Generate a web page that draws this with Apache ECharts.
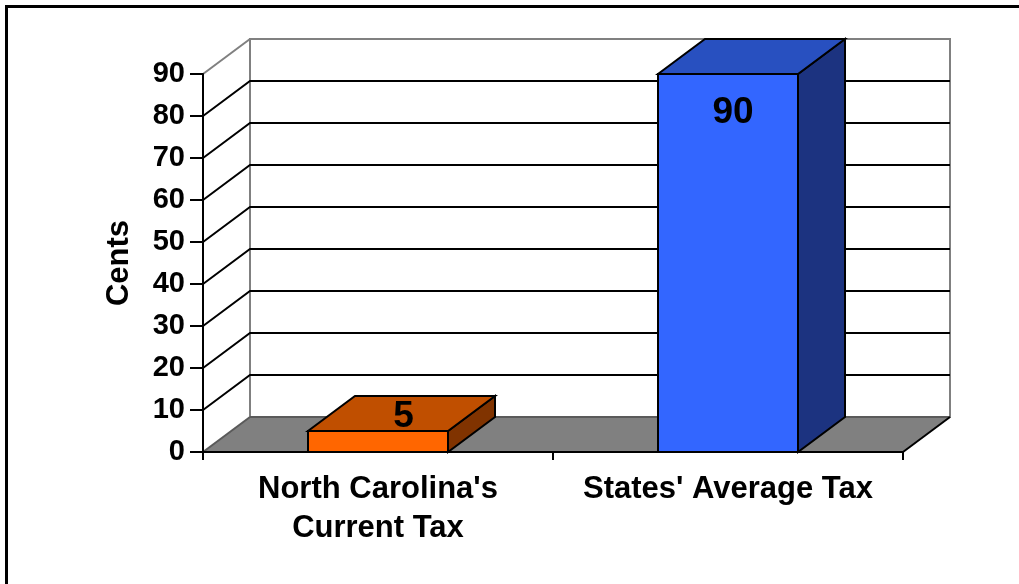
<!DOCTYPE html>
<html>
<head>
<meta charset="utf-8">
<style>
  html, body { margin: 0; padding: 0; background: #ffffff; }
  #chart { width: 1019px; height: 584px; }
</style>
<script src="https://cdn.jsdelivr.net/npm/echarts@6/dist/echarts.min.js"></script>
</head>
<body>
<div id="chart"></div>
<script>
// Cigarette tax comparison, in cents
const categories = ["North Carolina's\nCurrent Tax", "States' Average Tax"];
const taxCents = [5, 90];
const yTicks = [0, 10, 20, 30, 40, 50, 60, 70, 80, 90];

// Face colours for each bar: front, top, side
const faceColors = [
  { front: '#FF6600', top: '#C04F00', side: '#803300' },
  { front: '#3366FF', top: '#2850C0', side: '#1C3380' }
];

// Oblique depth of the pseudo-3D box
const DX = 47, DY = -35;
const FONT = 'Liberation Sans, Arial, Helvetica, sans-serif';

const yMin = yTicks[0];
const yMax = yTicks[yTicks.length - 1];
const yStep = yTicks[1] - yTicks[0];

// Walls, floor and gridlines of the 3D box
function renderFrame(params, api) {
  const cs = params.coordSys;
  const x0 = cs.x, x1 = cs.x + cs.width;
  const yBase = api.coord([0, yMin])[1];
  const yTop = api.coord([0, yMax])[1];
  const children = [];

  // side wall
  children.push({
    type: 'polygon',
    shape: { points: [[x0, yBase], [x0, yTop], [x0 + DX, yTop + DY], [x0 + DX, yBase + DY]] },
    style: { fill: '#ffffff', stroke: null }
  });
  // back wall
  children.push({
    type: 'rect',
    shape: { x: x0 + DX, y: yTop + DY, width: x1 - x0, height: yBase - yTop },
    style: { fill: '#ffffff', stroke: '#808080', lineWidth: 2 }
  });
  // floor
  children.push({
    type: 'polygon',
    shape: { points: [[x0, yBase], [x1, yBase], [x1 + DX, yBase + DY], [x0 + DX, yBase + DY]] },
    style: { fill: '#808080', stroke: null }
  });
  // floor edges
  children.push({
    type: 'line',
    shape: { x1: x0, y1: yBase, x2: x0 + DX, y2: yBase + DY },
    style: { stroke: '#5a5a5a', lineWidth: 2 }
  });
  children.push({
    type: 'line',
    shape: { x1: x0 + DX, y1: yBase + DY, x2: x1 + DX, y2: yBase + DY },
    style: { stroke: '#5a5a5a', lineWidth: 2 }
  });
  children.push({
    type: 'line',
    shape: { x1: x1, y1: yBase, x2: x1 + DX, y2: yBase + DY },
    style: { stroke: '#000000', lineWidth: 2 }
  });
  // top edge of the side wall
  children.push({
    type: 'line',
    shape: { x1: x0, y1: yTop, x2: x0 + DX, y2: yTop + DY },
    style: { stroke: '#808080', lineWidth: 2 }
  });
  // gridlines across the side wall and back wall
  yTicks.forEach(function (v) {
    if (v === yMin || v === yMax) return;
    const y = api.coord([0, v])[1];
    children.push({
      type: 'polyline',
      shape: { points: [[x0, y], [x0 + DX, y + DY], [x1 + DX, y + DY]] },
      style: { stroke: '#000000', lineWidth: 2, fill: null }
    });
  });
  return { type: 'group', children: children };
}

// 3D box bars with value labels
function renderBar(params, api) {
  const idx = api.value(0);
  const v = api.value(1);
  const base = api.coord([idx, 0]);
  const top = api.coord([idx, v]);
  const bw = api.size([1, 0])[0] * 0.4;
  const xl = top[0] - bw / 2, xr = top[0] + bw / 2;
  const yt = top[1], yb = base[1];
  const c = faceColors[idx % faceColors.length];
  const edge = { stroke: '#000000', lineWidth: 2, lineJoin: 'miter' };
  const children = [
    {
      type: 'polygon',
      shape: { points: [[xr, yt], [xr, yb], [xr + DX, yb + DY], [xr + DX, yt + DY]] },
      style: Object.assign({ fill: c.side }, edge)
    },
    {
      type: 'polygon',
      shape: { points: [[xl, yt], [xr, yt], [xr + DX, yt + DY], [xl + DX, yt + DY]] },
      style: Object.assign({ fill: c.top }, edge)
    },
    {
      type: 'rect',
      shape: { x: xl, y: yt, width: bw, height: yb - yt },
      style: Object.assign({ fill: c.front }, edge)
    }
  ];
  // short bars carry their label on the top face, tall bars inside the front
  let lx, ly;
  if (yb - yt < 60) {
    lx = top[0] + DX / 2 + 2;
    ly = yt + DY / 2 + 3;
  } else {
    lx = top[0] + 5;
    ly = yt + 39;
  }
  children.push({
    type: 'text',
    style: {
      text: String(v), x: lx, y: ly,
      align: 'center', verticalAlign: 'middle',
      fontSize: 37, fontWeight: 'bold', fontFamily: FONT, fill: '#000000'
    }
  });
  return { type: 'group', children: children };
}

const chart = echarts.init(document.getElementById('chart'), null, { renderer: 'canvas' });

chart.setOption({
  backgroundColor: '#ffffff',
  animation: false,
  graphic: [{
    type: 'rect',
    left: 4, top: 4,
    shape: { x: 0, y: 0, width: 1200, height: 800 },
    style: { fill: null, stroke: '#000000', lineWidth: 3 },
    z: 10
  }],
  grid: { left: 203, right: 116, top: 74, bottom: 132, containLabel: false },
  xAxis: {
    type: 'category',
    data: categories,
    z: 6,
    axisLine: { show: true, lineStyle: { color: '#000000', width: 2 } },
    axisTick: { show: true, length: 8, lineStyle: { color: '#000000', width: 2 } },
    axisLabel: {
      interval: 0, margin: 18, color: '#000000',
      fontSize: 31, fontWeight: 'bold', fontFamily: FONT, lineHeight: 39
    },
    splitLine: { show: false }
  },
  yAxis: {
    type: 'value',
    min: yMin, max: yMax, interval: yStep,
    z: 6,
    name: 'Cents',
    nameLocation: 'middle',
    nameGap: 68,
    nameTextStyle: { color: '#000000', fontSize: 31, fontWeight: 'bold', fontFamily: FONT },
    axisLine: { show: true, lineStyle: { color: '#000000', width: 2 } },
    axisTick: { show: true, length: 13, lineStyle: { color: '#000000', width: 2 } },
    axisLabel: { margin: 18, color: '#000000', fontSize: 29, fontWeight: 'bold', fontFamily: FONT },
    splitLine: { show: false }
  },
  series: [
    {
      type: 'custom',
      name: 'frame',
      z: 1,
      silent: true,
      renderItem: renderFrame,
      data: [[0, 0]]
    },
    {
      type: 'custom',
      name: 'Tax',
      z: 3,
      renderItem: renderBar,
      data: taxCents.map(function (v, i) { return [i, v]; })
    }
  ]
});
</script>
</body>
</html>
